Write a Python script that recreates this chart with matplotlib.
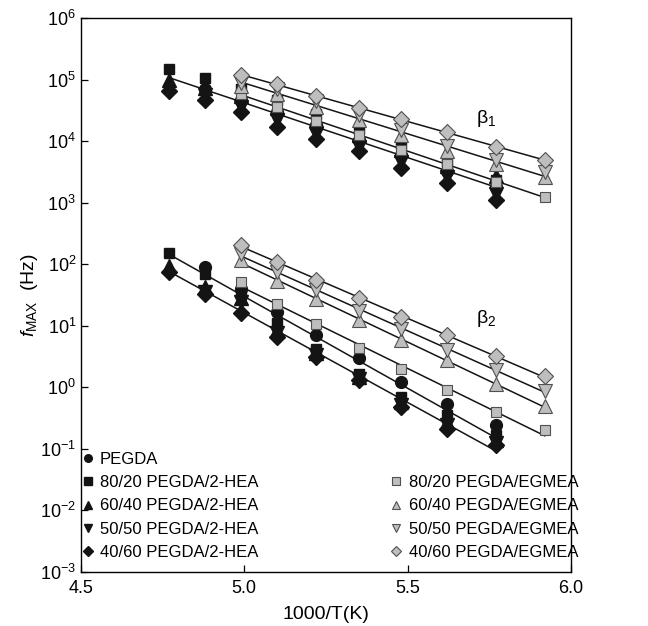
import matplotlib.pyplot as plt
import numpy as np
from matplotlib.lines import Line2D
from matplotlib.ticker import LogLocator, NullLocator

plt.rcParams['font.family'] = ['Liberation Sans', 'DejaVu Sans']
plt.rcParams['mathtext.fontset'] = 'custom'
plt.rcParams['mathtext.rm'] = 'Liberation Sans'
plt.rcParams['mathtext.it'] = 'Liberation Sans:italic'
plt.rcParams['mathtext.bf'] = 'Liberation Sans:bold'

# 1000/T columns
x_hea = [4.77, 4.88, 4.99, 5.10, 5.22, 5.35, 5.48, 5.62, 5.77]
x_pegda = [4.88, 4.99, 5.10, 5.22, 5.35, 5.48, 5.62, 5.77]
x_egmea = [4.99, 5.10, 5.22, 5.35, 5.48, 5.62, 5.77, 5.92]

# beta1 relaxation (Hz)
pegda_b1 = [7.0e4, 4.6e4, 3.0e4, 1.85e4, 1.05e4, 6.0e3, 3.3e3, 1.8e3]
hea80_b1 = [1.5e5, 1.04e5, 7.1e4, 4.6e4, 2.8e4, 1.55e4, 9.0e3, 4.6e3, 2.3e3]
hea60_b1 = [1.0e5, 7.2e4, 5.3e4, 3.5e4, 2.2e4, 1.25e4, 7.2e3, 4.0e3, 2.7e3]
hea50_b1 = [5.6e4, 3.6e4, 2.2e4, 1.3e4, 8.0e3, 4.6e3, 2.6e3, 1.4e3]
hea40_b1 = [6.6e4, 4.6e4, 3.0e4, 1.7e4, 1.07e4, 7.0e3, 3.7e3, 2.1e3, 1.1e3]
egm80_b1 = [5.9e4, 3.6e4, 2.1e4, 1.26e4, 7.2e3, 4.3e3, 2.2e3, 1.25e3]
egm60_b1 = [7.9e4, 5.9e4, 3.6e4, 2.2e4, 1.26e4, 6.9e3, 4.2e3, 2.6e3]
egm50_b1 = [8.9e4, 7.0e4, 4.4e4, 2.7e4, 1.5e4, 8.3e3, 5.0e3, 3.1e3]
egm40_b1 = [1.2e5, 8.4e4, 5.4e4, 3.4e4, 2.27e4, 1.38e4, 8.0e3, 5.0e3]

# beta2 relaxation (Hz)
pegda_b2 = [89, 40, 16.6, 7.0, 3.0, 1.22, 0.54, 0.24]
hea80_b2 = [151, 70, 37, 11, 4.25, 1.66, 0.70, 0.35, 0.167]
hea60_b2 = [92, 42, 28, 8.5, 3.6, 1.45, 0.58, 0.27, 0.14]
hea50_b2 = [36, 24, 7.5, 3.3, 1.35, 0.52, 0.24, 0.125]
hea40_b2 = [74, 33, 16, 6.5, 3.1, 1.3, 0.48, 0.21, 0.115]
egm80_b2 = [51, 22.7, 10.7, 4.4, 2.0, 0.9, 0.39, 0.2]
egm60_b2 = [115, 54, 27.5, 12.2, 5.8, 2.75, 1.12, 0.5]
egm50_b2 = [148, 74, 38, 17.5, 8.9, 4.1, 1.94, 0.88]
egm40_b2 = [205, 108, 56, 28.5, 14, 7.0, 3.2, 1.5]

black = '#141414'
gface = '#bebebe'
gedge = '#505050'

fig = plt.figure(figsize=(6.48, 6.26), dpi=100)
ax = fig.add_axes([0.125, 0.0863, 0.756, 0.885])

# fitted lines (log-linear) for each group
groups = [
    ([x_pegda, x_hea, x_hea, x_pegda, x_hea], [pegda_b1, hea80_b1, hea60_b1, hea50_b1, hea40_b1]),
    ([x_egmea], [egm80_b1]),
    ([x_egmea, x_egmea], [egm60_b1, egm50_b1]),
    ([x_egmea], [egm40_b1]),
    ([x_pegda, x_hea], [pegda_b2, hea80_b2]),
    ([x_hea, x_pegda, x_hea], [hea60_b2, hea50_b2, hea40_b2]),
    ([x_egmea], [egm80_b2]),
    ([x_egmea], [egm60_b2]),
    ([x_egmea], [egm50_b2]),
    ([x_egmea], [egm40_b2]),
]
for xs, ys in groups:
    xx = np.concatenate([np.asarray(v, float) for v in xs])
    yy = np.concatenate([np.log10(v) for v in ys])
    k, b = np.polyfit(xx, yy, 1)
    xl = np.array([xx.min(), xx.max()])
    ax.plot(xl, 10 ** (k * xl + b), color=black, lw=1.1, zorder=1)

hea_series = [
    (x_pegda, pegda_b1, pegda_b2, 'o', 8.5, 'PEGDA'),
    (x_hea, hea80_b1, hea80_b2, 's', 7.5, '80/20 PEGDA/2-HEA'),
    (x_hea, hea60_b1, hea60_b2, '^', 9.5, '60/40 PEGDA/2-HEA'),
    (x_pegda, hea50_b1, hea50_b2, 'v', 9.5, '50/50 PEGDA/2-HEA'),
    (x_hea, hea40_b1, hea40_b2, 'D', 8, '40/60 PEGDA/2-HEA'),
]
egm_series = [
    (x_egmea, egm80_b1, egm80_b2, 's', 7.5, '80/20 PEGDA/EGMEA'),
    (x_egmea, egm60_b1, egm60_b2, '^', 9.5, '60/40 PEGDA/EGMEA'),
    (x_egmea, egm50_b1, egm50_b2, 'v', 9.5, '50/50 PEGDA/EGMEA'),
    (x_egmea, egm40_b1, egm40_b2, 'D', 8, '40/60 PEGDA/EGMEA'),
]

h1 = []
for xs, y1, y2, m, ms, lab in hea_series:
    for ys in (y1, y2):
        ax.plot(xs, ys, ls='none', marker=m, ms=ms, mfc=black, mec=black, zorder=2)
    h1.append(Line2D([], [], ls='none', marker=m, ms=5.5, mfc=black, mec=black, label=lab))

h2 = []
for xs, y1, y2, m, ms, lab in egm_series:
    for ys in (y1, y2):
        ax.plot(xs, ys, ls='none', marker=m, ms=ms, mfc=gface, mec=gedge, mew=0.8, zorder=3)
    h2.append(Line2D([], [], ls='none', marker=m, ms=5.5, mfc=gface, mec=gedge, mew=0.8, label=lab))

ax.set_yscale('log')
ax.set_xlim(4.5, 6.0)
ax.set_ylim(1e-3, 1e6)
ax.set_xticks([4.5, 5.0, 5.5, 6.0])
ax.set_xticklabels(['4.5', '5.0', '5.5', '6.0'])
ax.yaxis.set_major_locator(LogLocator(base=10, numticks=20))
ax.yaxis.set_minor_locator(NullLocator())
ax.tick_params(direction='in', length=5, width=0.9, labelsize=13, top=False, right=False)
ax.tick_params(axis='x', pad=6)
for s in ax.spines.values():
    s.set_linewidth(1.0)

ax.set_xlabel('1000/T(K)', fontsize=14, labelpad=6)
ax.set_ylabel(r'$f_{\mathrm{MAX}}$  (Hz)', fontsize=14, labelpad=0)

ax.text(5.74, 2.3e4, r'$\mathrm{β}_1$', fontsize=14, ha='center', va='center')
ax.text(5.74, 13, r'$\mathrm{β}_2$', fontsize=14, ha='center', va='center')

leg1 = ax.legend(handles=h1, loc='lower left', bbox_to_anchor=(0.004, 0.022), frameon=False,
                 fontsize=12, handlelength=0.6, handletextpad=0.42, labelspacing=0.49,
                 borderpad=0, borderaxespad=0)
ax.add_artist(leg1)
ax.legend(handles=h2, loc='lower left', bbox_to_anchor=(0.633, 0.022), frameon=False,
          fontsize=12, handlelength=0.6, handletextpad=0.5, labelspacing=0.49,
          borderpad=0, borderaxespad=0)

fig.savefig('out.png', dpi=100)
